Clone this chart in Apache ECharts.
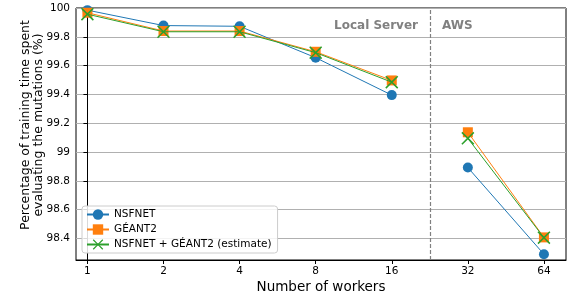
<!DOCTYPE html>
<html>
<head>
<meta charset="utf-8">
<script src="https://cdn.jsdelivr.net/npm/echarts@6/dist/echarts.min.js"></script>
<style>html,body{margin:0;padding:0;background:#fff;}#c{width:567px;height:299px;}</style>
</head>
<body>
<div id="c"></div>
<script>
const workers = ['1', '2', '4', '8', '16', '32', '64'];
const nsfnet = [99.985, 99.878, 99.873, 99.655, 99.395, 98.892, 98.290];
const geant2 = [99.967, 99.840, 99.840, 99.696, 99.497, 99.137, 98.407];
const estimate = [99.957, 99.835, 99.835, 99.690, 99.485, 99.095, 98.405];
const yTicks = [98.4, 98.6, 98.8, 99.0, 99.2, 99.4, 99.6, 99.8, 100.0];
const seriesNames = ['NSFNET', 'GÉANT2', 'NSFNET + GÉANT2 (estimate)'];
const splitAt = 4.5;
const regionLabels = ['Local Server', 'AWS'];

const FONT = 'DejaVu Sans';
const xIdx = workers.map((_, i) => i);
const toPts = arr => arr.map((v, i) => [i, v]);
const localPts = arr => toPts(arr).filter(p => p[0] < splitAt);
const awsPts = arr => toPts(arr).filter(p => p[0] > splitAt);
const crossPath = 'path://M0,1L1,0L6,5L11,0L12,1L7,6L12,11L11,12L6,7L1,12L0,11L5,6Z';

const styles = [
  {symbol: 'circle', symbolSize: 10, color: '#1f77b4'},
  {symbol: 'rect', symbolSize: 10, color: '#ff7f0e'},
  {symbol: crossPath, symbolSize: 13, color: '#2ca02c'}
];
const values = [nsfnet, geant2, estimate];

const series = [];
[localPts, awsPts].forEach((seg, segI) => {
  values.forEach((arr, k) => {
    const s = {
      name: seriesNames[k], type: 'line', data: seg(arr),
      symbol: styles[k].symbol, symbolSize: styles[k].symbolSize,
      lineStyle: {color: styles[k].color, width: 1}, itemStyle: {color: styles[k].color},
      z: 2 + k
    };
    if (segI === 0 && k === 0) {
      s.markLine = {
        silent: true, symbol: 'none', label: {show: false},
        lineStyle: {color: '#808080', type: [4, 2], width: 1.2},
        data: [{xAxis: splitAt}]
      };
    }
    series.push(s);
  });
});

const chart = echarts.init(document.getElementById('c'), null, {renderer: 'canvas'});
chart.setOption({
  animation: false,
  grid: {left: 76, right: 1, top: 8, bottom: 39, show: true, borderColor: '#000', borderWidth: 1, backgroundColor: 'transparent'},
  xAxis: {
    type: 'value', min: -0.15, max: 6.29,
    axisLine: {show: true, lineStyle: {color: '#000', width: 1}},
    axisTick: {show: true, length: 4, customValues: xIdx, lineStyle: {color: '#000'}},
    axisLabel: {customValues: xIdx, formatter: v => workers[Math.round(v)], color: '#000', fontFamily: FONT, fontSize: 10.5, margin: 6},
    splitLine: {show: false}
  },
  yAxis: {
    type: 'value', min: 98.25, max: 100,
    axisLine: {show: true, lineStyle: {color: '#000', width: 1}},
    axisTick: {show: true, length: 4, customValues: yTicks, lineStyle: {color: '#000'}},
    axisLabel: {customValues: yTicks, formatter: v => String(Math.round(v * 10) / 10), color: '#000', fontFamily: FONT, fontSize: 10.5, margin: 6},
    splitLine: {show: true, lineStyle: {color: '#b0b0b0', width: 1}}
  },
  legend: {
    orient: 'vertical', left: 82, top: 206,
    itemWidth: 22, itemHeight: 13, itemGap: 2,
    padding: [2, 6, 2, 4],
    backgroundColor: 'rgba(255,255,255,0.85)', borderColor: '#cccccc', borderWidth: 1, borderRadius: 3,
    textStyle: {fontFamily: FONT, fontSize: 10.5, color: '#000', lineHeight: 13},
    data: seriesNames
  },
  series: series,
  graphic: [
    {type: 'text', x: 418, y: 26, style: {text: regionLabels[0], fill: '#808080', font: 'bold 12px "DejaVu Sans"', textAlign: 'right', textVerticalAlign: 'middle'}},
    {type: 'text', x: 442, y: 26, style: {text: regionLabels[1], fill: '#808080', font: 'bold 12px "DejaVu Sans"', textAlign: 'left', textVerticalAlign: 'middle'}},
    {type: 'text', x: 32, y: 125, rotation: Math.PI / 2, style: {text: 'Percentage of training time spent\nevaluating the mutations (%)', fill: '#000', font: '12.5px "DejaVu Sans"', lineHeight: 13, textAlign: 'center', textVerticalAlign: 'middle'}},
    {type: 'text', x: 321, y: 287, style: {text: 'Number of workers', fill: '#000', font: '13.5px "DejaVu Sans"', textAlign: 'center', textVerticalAlign: 'middle'}}
  ]
});
</script>
</body>
</html>
